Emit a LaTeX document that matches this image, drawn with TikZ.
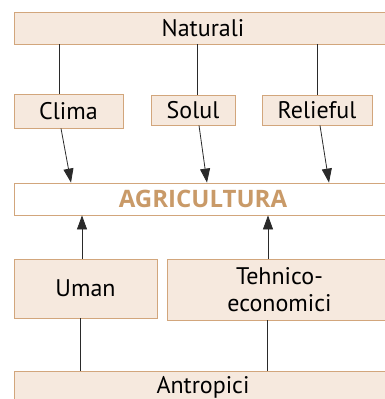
\documentclass[tikz,border=0pt]{standalone}
\usepackage{fontspec}
\setmainfont{PT Sans}
\newfontfamily\agrifont{Open Sans}
\usetikzlibrary{arrows.meta,positioning}
\definecolor{boxfill}{HTML}{F6E9DE}
\definecolor{boxline}{HTML}{D2A67C}
\definecolor{agritext}{HTML}{C99A68}
\definecolor{linkgray}{HTML}{2A2A2A}

\begin{document}
\begin{tikzpicture}[
  x=1pt, y=-1pt,
  box/.style={draw=boxline, fill=boxfill, line width=0.8pt, align=center,
    inner sep=0pt, font=\fontsize{24}{27}\selectfont},
  link/.style={draw=linkgray, line width=0.8pt},
  arrow/.style={link, -{Triangle[length=14pt,width=10pt]}}
]
  \useasboundingbox (0,0) rectangle (384,399);

  \node[box, minimum width=378pt, minimum height=32pt] (nat) at (203,28) {Naturali};
  \node[box, minimum width=109pt, minimum height=34pt] (clima) at (68.5,111) {Clima};
  \node[box, minimum width=84pt, minimum height=30pt] (solul) at (193,110) {Solul};
  \node[box, minimum width=110pt, minimum height=30pt] (relief) at (317,110) {Relieful};
  \node[box, fill=white, minimum width=378pt, minimum height=32pt,
    text=agritext, font=\agrifont\fontsize{24}{27}\selectfont\bfseries] (agri) at (203,199) {AGRICULTURA};
  \node[box, minimum width=143pt, minimum height=59pt] (uman) at (85.5,288.5) {Uman};
  \node[box, minimum width=225pt, minimum height=61pt] (tehn) at (279.5,289.5) {Tehnico-\\economici};
  \node[box, minimum width=378pt, minimum height=32pt] (antr) at (203,387) {Antropici};

  % naturali -> factori naturali
  \draw[link] (clima.north -| 59,0) -- (nat.south -| 59,0);
  \draw[link] (solul.north -| 197,0) -- (nat.south -| 197,0);
  \draw[link] (relief.north -| 317,0) -- (nat.south -| 317,0);

  \draw[arrow] (clima.south -| 61,0) -- (agri.north -| 71,0);
  \draw[arrow] (solul.south -| 199,0) -- (agri.north -| 207,0);
  \draw[arrow] (relief.south -| 320,0) -- (agri.north -| 329,0);

  % antropici -> factori antropici
  \draw[link] (antr.north -| 80,0) -- (uman.south -| 80,0);
  \draw[link] (antr.north -| 267,0) -- (tehn.south -| 267,0);

  \draw[arrow] (uman.north -| 82,0) -- (agri.south -| 82,0);
  \draw[arrow] (tehn.north -| 268,0) -- (agri.south -| 268,0);
\end{tikzpicture}
\end{document}
